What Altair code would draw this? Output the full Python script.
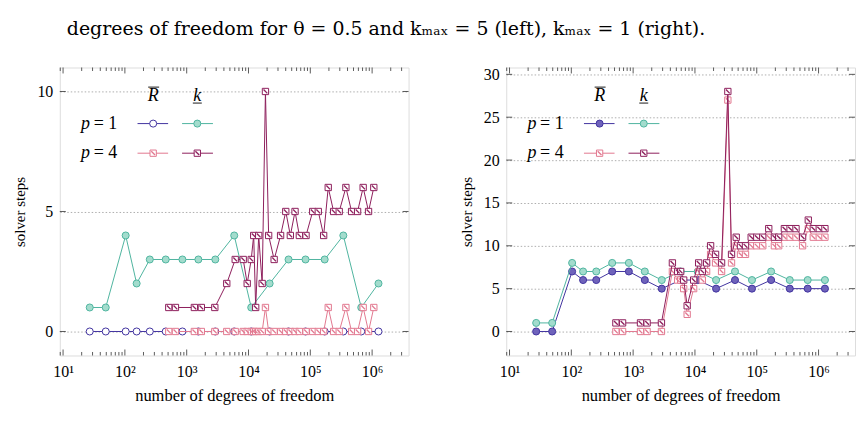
import altair as alt
import pandas as pd

# ---------------- data ----------------
# p = 1 meshes (same in both panels)
dofs_p1 = [27, 49, 103, 155, 253, 458, 853, 1545, 2904, 5877, 11070, 21980,
           44460, 83690, 170800, 342200, 667100, 1268000]

# left panel, k_max = 5
left_p1_R = [0, 0, 0, 0, 0, 0, 0, 0, 0, 0, 0, 0, 0, 0, 0, 0, 0, 0]
left_p1_k = [1, 1, 4, 2, 3, 3, 3, 3, 3, 4, 1, 2, 3, 3, 3, 4, 1, 2]
left_dofs_p4 = [513, 658, 1331, 1726, 2851, 4449, 6098, 8218, 9531, 11070,
                12140, 13070, 14620, 16640, 18800, 21170, 26000, 33050, 40090,
                47550, 56620, 66490, 85300, 109400, 134600, 164400, 195000,
                238300, 293600, 376600, 465600, 582100, 716400, 875400, 1065000]
left_p4_R = [0, 0, 0, 0, 0, 0, 0, 0, 0, 0, 0, 0, 0, 0, 1, 0, 0, 0, 0, 0,
             0, 0, 0, 0, 0, 0, 1, 0, 0, 1, 0, 0, 1, 0, 1]
left_p4_k = [1, 1, 1, 1, 1, 2, 3, 3, 2, 3, 4, 1, 4, 2, 10, 4, 3, 4, 5, 4,
             5, 4, 4, 5, 5, 4, 6, 5, 5, 6, 5, 5, 6, 5, 6]

# right panel, k_max = 1
right_p1_R = [0, 0, 7, 6, 6, 7, 7, 6, 5, 6, 6, 5, 6, 5, 6, 5, 5, 5]
right_p1_k = [1, 1, 8, 7, 7, 8, 8, 7, 6, 7, 7, 6, 7, 6, 7, 6, 6, 6]
right_dofs_p4 = [526, 675, 1315, 1682, 2870, 4318, 5260, 5877, 6575, 7487,
                 9531, 11480, 13160, 15450, 17920, 21560, 26970, 34060, 39080,
                 46560, 54580, 65770, 81280, 100000, 125000, 156300, 192800,
                 226400, 279900, 345900, 431800, 551600, 682300, 821900,
                 1026000, 1268000]
right_p4_R = [0, 0, 0, 0, 0, 7, 6, 6, 5, 2, 5, 7, 6, 7, 9, 8, 7, 27, 8, 10,
              9, 9, 10, 10, 10, 11, 10, 10, 11, 11, 11, 10, 12, 11, 11, 11]
right_p4_k = [1, 1, 1, 1, 1, 8, 7, 7, 6, 3, 6, 8, 7, 8, 10, 9, 8, 28, 9, 11,
              10, 10, 11, 11, 11, 12, 11, 11, 12, 12, 12, 11, 13, 12, 12, 12]

left_y_ticks = [0, 5, 10]
right_y_ticks = [0, 5, 10, 15, 20, 25, 30]
x_major = [10, 100, 1000, 10000, 100000, 1000000]

caption = "degrees of freedom for θ = 0.5 and kₘₐₓ = 5 (left), kₘₐₓ = 1 (right)."

# ---------------- style ----------------
FONT = "'Liberation Serif', 'DejaVu Serif', serif"
CAP_FONT = "'DejaVu Serif', serif"
W, H = 350, 289
FRAME = "#333333"
C_BLUE = "#4234a0"
C_BLUE_FILL = "#6f63bb"
C_TEAL = "#4fb5a0"
C_TEAL_FILL = "#a3dccd"
C_PINK = "#e27890"
C_DARK = "#8e1f5c"
X_DOMAIN = [8.85, 3.89e6]
STRIPE = "M-0.75,-0.45L-0.45,-0.75L0.75,0.45L0.45,0.75Z"

x_minor = [m * 10 ** e for e in range(0, 7) for m in range(2, 10)
           if X_DOMAIN[0] <= m * 10 ** e <= X_DOMAIN[1]]

ONE = pd.DataFrame({"a": [0]})

LABEL_EXPR = ("'10' + ['⁰','¹','²','³','⁴','⁵','⁶','⁷']"
              "[round(log(datum.value)/LN10)]")


def txt(s, x, y, size=16, italic=False, align="left", font=FONT):
    return alt.Chart(ONE).mark_text(
        text=s, font=font, fontSize=size, align=align, baseline="middle",
        fontStyle="italic" if italic else "normal", color="black"
    ).encode(x=alt.value(x), y=alt.value(y))


def hrule(x1, x2, y, color, width=1.0):
    return alt.Chart(ONE).mark_rule(color=color, strokeWidth=width).encode(
        x=alt.value(x1), x2=alt.value(x2), y=alt.value(y))


def marker(x, y, shape, stroke, fill, size, stripe=False):
    out = [alt.Chart(ONE).mark_point(
        shape=shape, size=size, filled=True, fill=fill, stroke=stroke,
        strokeWidth=1, opacity=1, fillOpacity=1
    ).encode(x=alt.value(x), y=alt.value(y))]
    if stripe:
        out.append(alt.Chart(ONE).mark_point(
            shape=STRIPE, size=size, filled=True, fill=stroke, opacity=1,
            strokeWidth=0).encode(x=alt.value(x), y=alt.value(y)))
    return out


def make_panel(p1_R, p1_k, dofs_p4, p4_R, p4_k, y_domain, y_ticks,
               blue_fill, with_caption):
    xs = alt.Scale(type="log", domain=X_DOMAIN, nice=False)
    ys = alt.Scale(domain=y_domain, nice=False, zero=False)
    xa = alt.Axis(values=x_major, labelExpr=LABEL_EXPR, ticks=False,
                  domain=False, grid=False, labelFont=FONT, labelFontSize=16,
                  labelPadding=8, labelColor="black", labelFlush=False,
                  title="number of degrees of freedom", titleFont=FONT,
                  titleFontSize=16.5, titleFontWeight="normal",
                  titleColor="black", titlePadding=8)
    ya = alt.Axis(values=y_ticks, ticks=False, domain=False, grid=True,
                  gridColor="#9a9a9a", gridDash=[1.5, 2], gridWidth=0.8,
                  labelFont=FONT, labelFontSize=16, labelPadding=7,
                  labelColor="black", labelFlush=False,
                  title="solver steps", titleFont=FONT, titleFontSize=15,
                  titleFontWeight="normal", titleColor="black",
                  titlePadding=9)
    X = alt.X("dof:Q", scale=xs, axis=xa)
    Y = alt.Y("steps:Q", scale=ys, axis=ya)

    def series(dofs, vals, color, shape, fill, size, stripe=False):
        df = pd.DataFrame({"dof": dofs, "steps": vals})
        base = alt.Chart(df).encode(x=X, y=Y)
        line = base.mark_line(color=color, strokeWidth=1)
        pts = base.mark_point(shape=shape, size=size, filled=True, fill=fill,
                              stroke=color, strokeWidth=1, opacity=1,
                              fillOpacity=1)
        out = [line, pts]
        if stripe:
            out.append(base.mark_point(shape=STRIPE, size=size, filled=True,
                                       fill=color, opacity=1, strokeWidth=0))
        return out

    layers = []
    layers += series(dofs_p1, p1_R, C_BLUE, "circle", blue_fill, 50)
    layers += series(dofs_p1, p1_k, C_TEAL, "circle", C_TEAL_FILL, 50)
    layers += series(dofs_p4, p4_R, C_PINK, "square", "white", 40, True)
    layers += series(dofs_p4, p4_k, C_DARK, "square", "white", 40, True)

    # inward ticks (pgfplots style)
    dmaj = pd.DataFrame({"dof": x_major})
    dmin = pd.DataFrame({"dof": x_minor})
    dy = pd.DataFrame({"steps": y_ticks})
    for d, ln in ((dmaj, 6), (dmin, 3.5)):
        layers.append(alt.Chart(d).mark_rule(color=FRAME, strokeWidth=0.8)
                      .encode(x=X, y=alt.value(H), y2=alt.value(H - ln)))
        layers.append(alt.Chart(d).mark_rule(color=FRAME, strokeWidth=0.8)
                      .encode(x=X, y=alt.value(0), y2=alt.value(ln)))
    layers.append(alt.Chart(dy).mark_rule(color=FRAME, strokeWidth=0.8)
                  .encode(y=Y, x=alt.value(0), x2=alt.value(6)))
    layers.append(alt.Chart(dy).mark_rule(color=FRAME, strokeWidth=0.8)
                  .encode(y=Y, x=alt.value(W - 6), x2=alt.value(W)))

    # legend
    hx, kx = 93.7, 138
    hy, r1, r4 = 28.7, 56.3, 86
    layers += [
        txt("R", hx, hy, size=18, italic=True, align="center"),
        hrule(hx - 5, hx + 6, hy - 9, "black", 0.9),
        txt("k", kx, hy, size=18, italic=True, align="center"),
        hrule(kx - 4.5, kx + 4.5, hy + 7, "black", 0.9),
        txt("p", 21.3, r1, size=18, italic=True),
        txt("= 1", 34, r1, size=18),
        txt("p", 21.3, r4, size=18, italic=True),
        txt("= 4", 34, r4, size=18),
        hrule(78, 108.7, r1, C_BLUE),
        hrule(122.7, 153.7, r1, C_TEAL),
        hrule(78, 108.7, r4, C_PINK),
        hrule(122.7, 153.7, r4, C_DARK),
    ]
    layers += marker(hx, r1, "circle", C_BLUE, blue_fill, 50)
    layers += marker(kx, r1, "circle", C_TEAL, C_TEAL_FILL, 50)
    layers += marker(hx, r4, "square", C_PINK, "white", 40, True)
    layers += marker(kx, r4, "square", C_DARK, "white", 40, True)
    if with_caption:
        layers.append(txt(caption, 7, -39, size=19, font=CAP_FONT))
    return alt.layer(*layers).properties(width=W, height=H)


left = make_panel(left_p1_R, left_p1_k, left_dofs_p4, left_p4_R, left_p4_k,
                  [-1, 11], left_y_ticks, "white", True)
right = make_panel(right_p1_R, right_p1_k, right_dofs_p4, right_p4_R,
                   right_p4_k, [-2.8, 30.8], right_y_ticks, C_BLUE_FILL, False)

chart = alt.hconcat(left, right, spacing=98, bounds="flush").properties(
    padding={"left": 12, "top": 18, "right": 6, "bottom": 10}
).configure_view(stroke=FRAME, strokeWidth=1).configure(
    font=FONT, background="white")

chart.save("out.html", embed_options={"renderer": "svg", "actions": False})
